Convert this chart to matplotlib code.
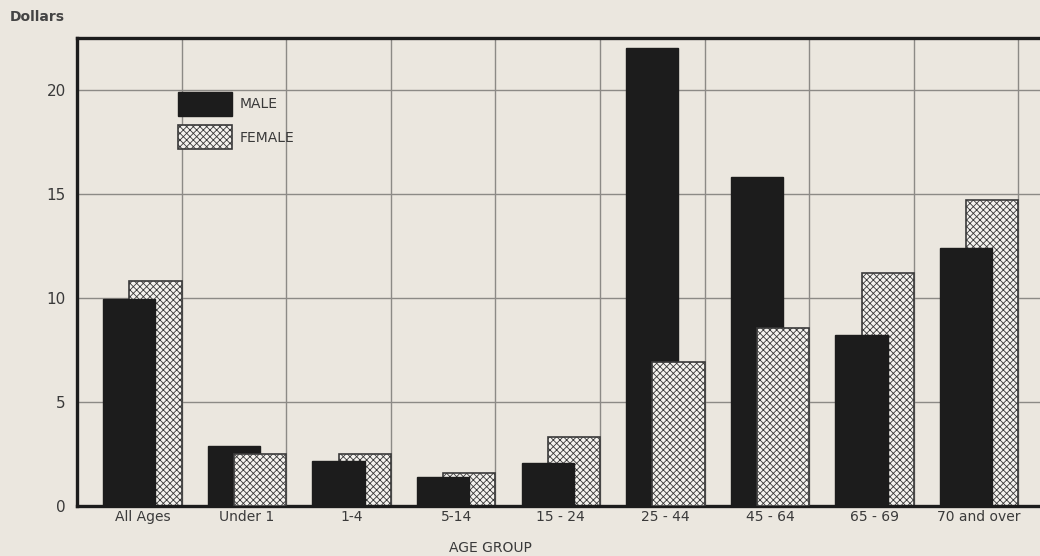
import numpy as np
import matplotlib.pyplot as plt

# per capita expenditure by age group and sex
age_groups = ['All Ages', 'Under 1', '1-4', '5-14', '15 - 24', '25 - 44',
              '45 - 64', '65 - 69', '70 and over']
male = [9.95, 2.9, 2.15, 1.4, 2.05, 22.0, 15.8, 8.2, 12.4]
female = [10.8, 2.5, 2.5, 1.6, 3.3, 6.9, 8.55, 11.2, 14.7]
y_ticks = [0, 5, 10, 15, 20]

paper = '#ebe7df'
ink = '#1c1c1c'

plt.rcParams['font.family'] = ['DejaVu Sans']
plt.rcParams['hatch.linewidth'] = 0.6

fig = plt.figure(figsize=(10.4, 5.56), dpi=100)
fig.patch.set_facecolor(paper)
ax = fig.add_axes([77 / 1040, 50 / 556, 963 / 1040, 468 / 556])
ax.set_facecolor(paper)

x = np.arange(len(age_groups))
w = 0.5
for i in x:
    # the shorter bar of each pair sits in front
    zm, zf = (3, 2) if male[i] <= female[i] else (2, 3)
    ax.bar(i + 0.25, male[i], width=w, align='edge', color=ink,
           edgecolor=ink, linewidth=1, zorder=zm,
           label='MALE' if i == 0 else None)
    ax.bar(i + 0.5, female[i], width=w, align='edge', color='#f4f2ee',
           edgecolor='#3a3a3a', hatch='xxxxx', linewidth=1.2, zorder=zf,
           label='FEMALE' if i == 0 else None)

ax.set_xlim(0, 963 / 104.6)
ax.set_ylim(0, 22.5)

# grid
for g in range(1, len(age_groups) + 1):
    ax.axvline(g, color='#8c8a86', lw=1, zorder=1)
for t in y_ticks[1:]:
    ax.axhline(t, color='#8c8a86', lw=1, zorder=1)

ax.set_yticks(y_ticks)
ax.set_yticklabels([str(t) for t in y_ticks], fontsize=11, color='#3a3a3a')
ax.set_xticks(x + 0.625)
ax.set_xticklabels(age_groups, fontsize=10, color='#3a3a3a')
ax.tick_params(length=0)
ax.tick_params(axis='y', pad=8)
ax.tick_params(axis='x', pad=3)

for s in ['left', 'top', 'bottom']:
    ax.spines[s].set_linewidth(2.4)
    ax.spines[s].set_color(ink)
ax.spines['right'].set_visible(False)

ax.set_xlabel('AGE GROUP', fontsize=10, color='#3a3a3a', labelpad=4)
ax.xaxis.set_label_coords((490 - 77) / 963, -0.075)
fig.text(10 / 1040, 1 - 17 / 556, 'Dollars', fontsize=10, fontweight='bold',
         color='#444444', va='center', ha='left')

leg = ax.legend(loc='upper left', bbox_to_anchor=(101 / 963, 1 - 54 / 468),
                frameon=False, fontsize=10, handlelength=3.9, handleheight=2.3,
                handletextpad=0.55, labelspacing=0.65, borderaxespad=0,
                borderpad=0)
for txt in leg.get_texts():
    txt.set_color('#3a3a3a')

fig.savefig('out.png', dpi=100, facecolor=paper)
